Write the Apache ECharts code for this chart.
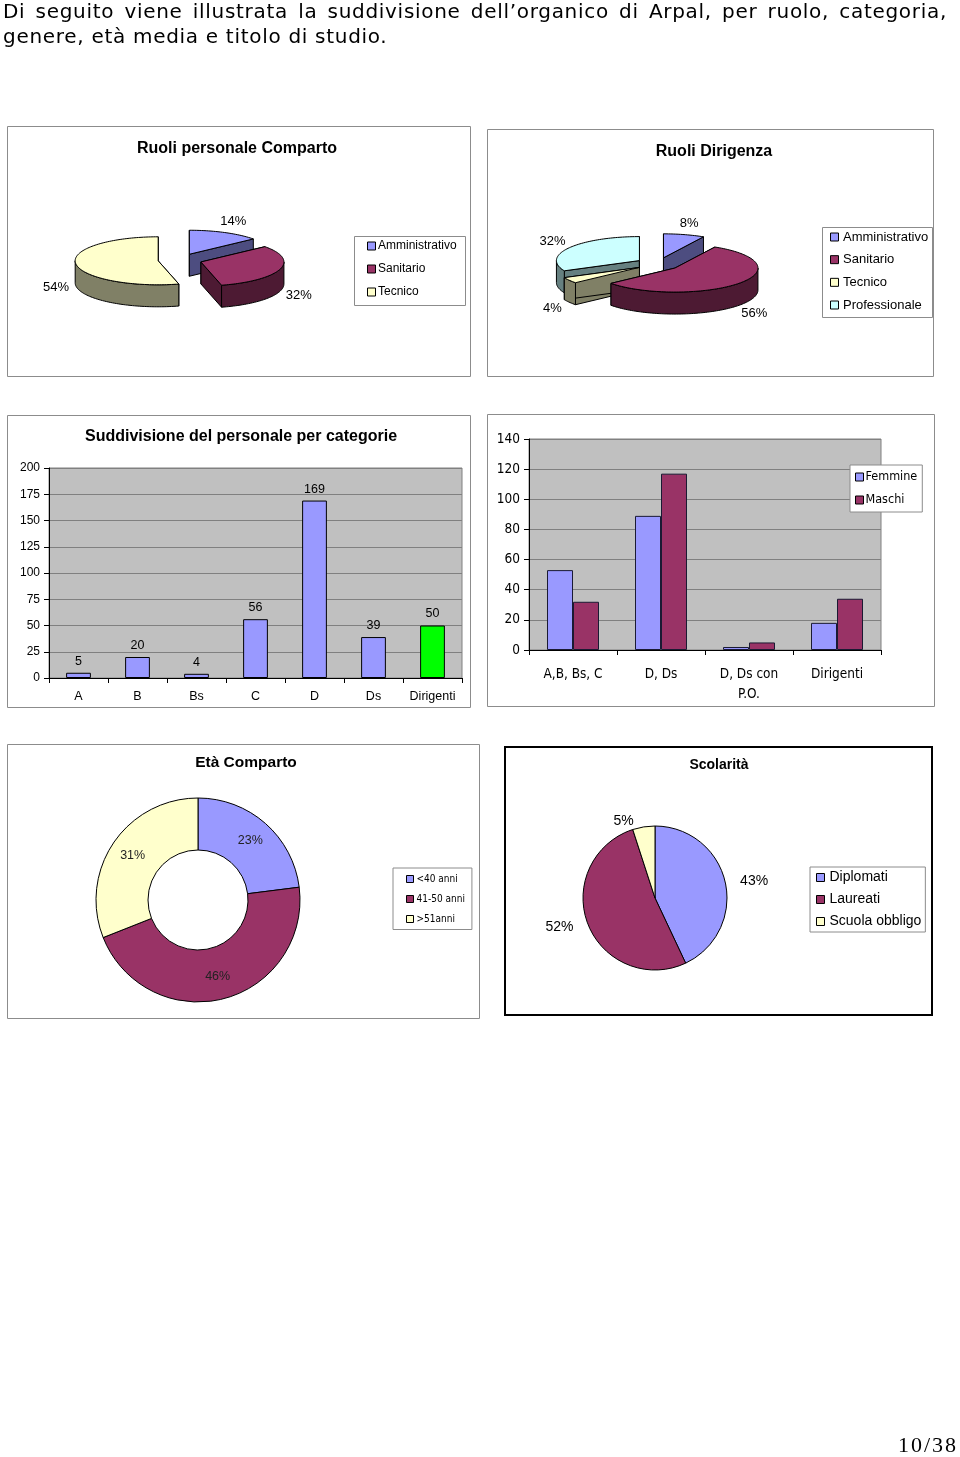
<!DOCTYPE html>
<html><head><meta charset="utf-8">
<script src="https://cdn.jsdelivr.net/npm/echarts@6/dist/echarts.min.js"></script>
<style>
html,body{margin:0;padding:0;background:#fff;}
#chart{position:absolute;left:0;top:0;width:960px;height:1457px;}
.p{position:absolute;left:3px;width:944px;font-family:"DejaVu Sans",Verdana,sans-serif;font-size:20px;letter-spacing:0.7px;line-height:25px;color:#000;white-space:nowrap;}
#l1{top:-1px;text-align:justify;text-align-last:justify;}
#l2{top:24px;}
#pg{position:absolute;right:2px;top:1431px;font-family:"Liberation Serif",serif;font-size:22px;letter-spacing:2px;line-height:28px;color:#000;}
</style></head><body>
<div id="chart"></div>
<div class="p" id="l1">Di seguito viene illustrata la suddivisione dell’organico di Arpal, per ruolo, categoria,</div>
<div class="p" id="l2">genere, età media e titolo di studio.</div>
<div id="pg">10/38</div>
<script>
// ---------- DATA ----------
const compartoRoles = ['Amministrativo', 'Sanitario', 'Tecnico'];
const compartoPct = [14, 32, 54];
const dirigenzaRoles = ['Amministrativo', 'Sanitario', 'Tecnico', 'Professionale'];
const dirigenzaPct = [8, 56, 4, 32];
const categorie = ['A', 'B', 'Bs', 'C', 'D', 'Ds', 'Dirigenti'];
const personale = [5, 20, 4, 56, 169, 39, 50];
const gruppi = ['A,B, Bs, C', 'D, Ds', 'D, Ds con\nP.O.', 'Dirigenti'];
const femmine = [53, 89, 2, 18];
const maschi = [32, 117, 5, 34];
const fasceEta = ['<40 anni', '41-50 anni', '>51anni'];
const etaPct = [23, 46, 31];
const titoli = ['Diplomati', 'Laureati', 'Scuola obbligo'];
const titoliPct = [43, 52, 5];

// ---------- STYLE ----------
const FONT = '"Liberation Sans", Arial, sans-serif';
const NARROW = '"DejaVu Sans Condensed", "Liberation Sans Narrow", sans-serif';
const TOP = {Amministrativo:'#9999FF', Sanitario:'#993366', Tecnico:'#FFFFCC', Professionale:'#CCFFFF'};
const SIDE = {Amministrativo:'#4D4D80', Sanitario:'#4D1A33', Tecnico:'#808066', Professionale:'#668080'};
const THREE = ['#9999FF', '#993366', '#FFFFCC'];
const BORDER = '#8c8c8c';

function pie3d(names, values, cfg) {
  const total = values.reduce((a, b) => a + b, 0);
  const angles = []; let acc = 0;
  values.forEach(v => { const a0 = acc / total * 2 * Math.PI; acc += v; angles.push([a0, acc / total * 2 * Math.PI]); });
  const mids = angles.map(a => (a[0] + a[1]) / 2);
  const order = mids.map((m, i) => i).sort((i, j) => Math.cos(mids[j]) - Math.cos(mids[i]));
  const rank = []; order.forEach((idx, r) => rank[idx] = r);
  return {
    type: 'custom', coordinateSystem: 'none', silent: true,
    data: names.map((n, i) => ({name: n, value: values[i]})),
    renderItem(params, api) {
      const i = params.dataIndex;
      const v = api.value(0);
      const [a0, a1] = angles[i]; const m = mids[i];
      const {cx, cy, rx, ry, depth, explode} = cfg;
      const c = [cx + explode * Math.sin(m), cy - explode * Math.cos(m) * ry / rx];
      const pt = (t, dy) => [c[0] + rx * Math.sin(t), c[1] - ry * Math.cos(t) + (dy || 0)];
      const arc = (s, e, dy) => { const n = Math.max(2, Math.ceil((e - s) / 0.03)); const out = []; for (let k = 0; k <= n; k++) out.push(pt(s + (e - s) * k / n, dy)); return out; };
      const st = fill => ({fill: fill, stroke: '#000', lineWidth: 1, lineJoin: 'round'});
      const z = rank[i] * 4;
      const children = [];
      [a0, a1].forEach(a => {
        const e = pt(a);
        children.push({type: 'polygon', z2: z, shape: {points: [c, e, [e[0], e[1] + depth], [c[0], c[1] + depth]]}, style: st(SIDE[names[i]])});
      });
      const s = Math.max(a0, Math.PI / 2), t = Math.min(a1, 3 * Math.PI / 2);
      if (t > s) {
        children.push({type: 'polygon', z2: z + 1, shape: {points: arc(s, t, 0).concat(arc(s, t, depth).reverse())}, style: st(SIDE[names[i]])});
      }
      children.push({type: 'polygon', z2: z + 2, shape: {points: [c].concat(arc(a0, a1, 0))}, style: st(TOP[names[i]])});
      const lx = c[0] + (rx + cfg.labelPad) * Math.sin(m);
      const ly = c[1] - (ry + cfg.labelPadY) * Math.cos(m) + (Math.cos(m) < 0 ? depth : 0);
      children.push({type: 'text', z2: 100, style: {text: v + '%', x: lx, y: ly, font: '13px ' + FONT, fill: '#000', align: 'center', verticalAlign: 'middle', textAlign: 'center', textVerticalAlign: 'middle'}});
      return {type: 'group', children: children};
    }
  };
}

// ---------- GRAPHIC (frames, titles, legends of 3D pies) ----------
const graphic = [];
function box(x, y, w, h, stroke, lw) {
  graphic.push({type: 'rect', z: 0, silent: true, shape: {x: x, y: y, width: w, height: h}, style: {fill: 'none', stroke: stroke, lineWidth: lw}});
}
function txt(text, x, y, font, align) {
  graphic.push({type: 'text', z: 10, silent: true, style: {text: text, x: x, y: y, font: font, fill: '#000', align: align || 'center', verticalAlign: 'middle', textAlign: align || 'center', textVerticalAlign: 'middle'}});
}
function legendBox(names, x, y, w, h, firstY, step, mx, tx, size) {
  box(x, y, w, h, BORDER, 1);
  names.forEach((n, i) => {
    const yy = firstY + step * i;
    graphic.push({type: 'rect', z: 10, silent: true, shape: {x: mx, y: yy - 4, width: 8, height: 8}, style: {fill: TOP[n], stroke: '#000', lineWidth: 1}});
    txt(n, tx, yy, size + 'px ' + FONT, 'left');
  });
}
box(7.5, 126.5, 463, 250, BORDER, 1);
box(487.5, 129.5, 446, 247, BORDER, 1);
box(7.5, 415.5, 463, 292, BORDER, 1);
box(487.5, 414.5, 447, 292, BORDER, 1);
box(7.5, 744.5, 472, 274, BORDER, 1);
box(505, 747, 427, 268, '#000', 2);
txt('Ruoli personale Comparto', 237, 148.5, 'bold 16px ' + FONT);
txt('Ruoli Dirigenza', 714, 151.5, 'bold 16px ' + FONT);
txt('Suddivisione del personale per categorie', 241, 436.5, 'bold 16px ' + FONT);
txt('Età Comparto', 246, 762.5, 'bold 15.5px ' + FONT);
txt('Scolarità', 719, 765, 'bold 14px ' + FONT);
legendBox(compartoRoles, 354.5, 236.5, 111, 69, 246, 23, 367.5, 378, 12);
legendBox(dirigenzaRoles, 822.5, 227.5, 110, 90, 237, 22.67, 830.5, 843, 13);

const chart = echarts.init(document.getElementById('chart'), null, {renderer: 'canvas'});
chart.setOption({
  animation: false,
  backgroundColor: '#fff',
  textStyle: {fontFamily: FONT},
  graphic: graphic,
  grid: [
    {left: 49, top: 468, width: 413, height: 210, show: true, backgroundColor: '#C0C0C0', borderColor: '#808080', borderWidth: 1, containLabel: false, outerBoundsMode: 'none'},
    {left: 529, top: 439, width: 352, height: 211, show: true, backgroundColor: '#C0C0C0', borderColor: '#808080', borderWidth: 1, containLabel: false, outerBoundsMode: 'none'}
  ],
  xAxis: [
    {gridIndex: 0, type: 'category', data: categorie,
     axisLine: {show: true, lineStyle: {color: '#000'}}, axisTick: {show: true, length: 5, lineStyle: {color: '#000'}},
     axisLabel: {fontFamily: FONT, fontSize: 12.5, color: '#000', margin: 12, interval: 0}, splitLine: {show: false}},
    {gridIndex: 1, type: 'category', data: gruppi,
     axisLine: {show: true, lineStyle: {color: '#000'}}, axisTick: {show: true, length: 5, lineStyle: {color: '#000'}},
     axisLabel: {fontFamily: NARROW, fontSize: 13.5, lineHeight: 20, color: '#000', margin: 14, interval: 0}, splitLine: {show: false}}
  ],
  yAxis: [
    {gridIndex: 0, type: 'value', min: 0, max: 200, interval: 25,
     axisLine: {show: true, lineStyle: {color: '#000'}}, axisTick: {show: true, length: 5, lineStyle: {color: '#000'}},
     axisLabel: {fontFamily: FONT, fontSize: 12, color: '#000', margin: 9},
     splitLine: {show: true, lineStyle: {color: '#808080', width: 1}}},
    {gridIndex: 1, type: 'value', min: 0, max: 140, interval: 20,
     axisLine: {show: true, lineStyle: {color: '#000'}}, axisTick: {show: true, length: 5, lineStyle: {color: '#000'}},
     axisLabel: {fontFamily: NARROW, fontSize: 13.5, color: '#000', margin: 9},
     splitLine: {show: true, lineStyle: {color: '#808080', width: 1}}}
  ],
  legend: [
    {data: ['Femmine', 'Maschi'], orient: 'vertical', left: 850, top: 465, padding: [4, 5, 4, 5], itemGap: 7,
     itemWidth: 8, itemHeight: 8, icon: 'rect', borderColor: BORDER, borderWidth: 1, backgroundColor: '#fff', selectedMode: false,
     itemStyle: {borderColor: '#000', borderWidth: 1}, textStyle: {fontFamily: NARROW, fontSize: 12.5, lineHeight: 16, color: '#000', padding: [0, 0, 0, -3]}},
    {data: fasceEta, orient: 'vertical', left: 393, top: 868, padding: [4.5, 7, 4, 13], itemGap: 7,
     itemWidth: 7, itemHeight: 7, icon: 'rect', borderColor: BORDER, borderWidth: 1, backgroundColor: '#fff', selectedMode: false,
     itemStyle: {borderColor: '#000', borderWidth: 1}, textStyle: {fontFamily: NARROW, fontSize: 10, lineHeight: 13, color: '#000', padding: [0, 0, 0, -2]}},
    {data: titoli, orient: 'vertical', left: 810, top: 867, padding: [3, 4, 3, 6], itemGap: 7,
     itemWidth: 8, itemHeight: 8, icon: 'rect', borderColor: BORDER, borderWidth: 1, backgroundColor: '#fff', selectedMode: false,
     itemStyle: {borderColor: '#000', borderWidth: 1}, textStyle: {fontFamily: FONT, fontSize: 14, lineHeight: 15, color: '#000', padding: [0, 0, 0, 0]}}
  ],
  series: [
    pie3d(compartoRoles, compartoPct, {cx: 180, cy: 260, rx: 83, ry: 24, depth: 22, explode: 22, labelPad: 20, labelPadY: 12}),
    pie3d(dirigenzaRoles, dirigenzaPct, {cx: 658, cy: 264, rx: 83, ry: 24, depth: 22, explode: 22, labelPad: 20, labelPadY: 12}),
    {type: 'bar', xAxisIndex: 0, yAxisIndex: 0, data: personale, barWidth: '42%', silent: true,
     itemStyle: {color: p => (p.name === 'Dirigenti' ? '#00FF00' : '#9999FF'), borderColor: '#000', borderWidth: 1},
     label: {show: true, position: 'top', distance: 5, fontFamily: FONT, fontSize: 12.5, color: '#000'}},
    {name: 'Femmine', type: 'bar', xAxisIndex: 1, yAxisIndex: 1, data: femmine, barWidth: 26, barGap: '0%', silent: true,
     itemStyle: {color: '#9999FF', borderColor: '#1a1a33', borderWidth: 1}},
    {name: 'Maschi', type: 'bar', xAxisIndex: 1, yAxisIndex: 1, data: maschi, barWidth: 26, barGap: '0%', silent: true,
     itemStyle: {color: '#993366', borderColor: '#1a1a33', borderWidth: 1}},
    {type: 'pie', center: [198, 900], radius: [50, 102], startAngle: 90, clockwise: true, silent: true,
     data: fasceEta.map((n, i) => ({name: n, value: etaPct[i]})),
     itemStyle: {color: p => THREE[p.dataIndex], borderColor: '#000', borderWidth: 1},
     label: {show: true, position: 'inside', formatter: '{c}%', fontFamily: FONT, fontSize: 12.5, color: '#222'},
     labelLine: {show: false}, emphasis: {disabled: true}},
    {type: 'pie', center: [655, 898], radius: 72, startAngle: 90, clockwise: true, silent: true, avoidLabelOverlap: false,
     data: titoli.map((n, i) => ({name: n, value: titoliPct[i]})),
     itemStyle: {color: p => THREE[p.dataIndex], borderColor: '#000', borderWidth: 1},
     label: {show: true, position: 'outside', formatter: '{c}%', fontFamily: FONT, fontSize: 14, color: '#000'},
     labelLine: {show: false, length: 6, length2: 4}, emphasis: {disabled: true}}
  ]
});
</script>
</body></html>
